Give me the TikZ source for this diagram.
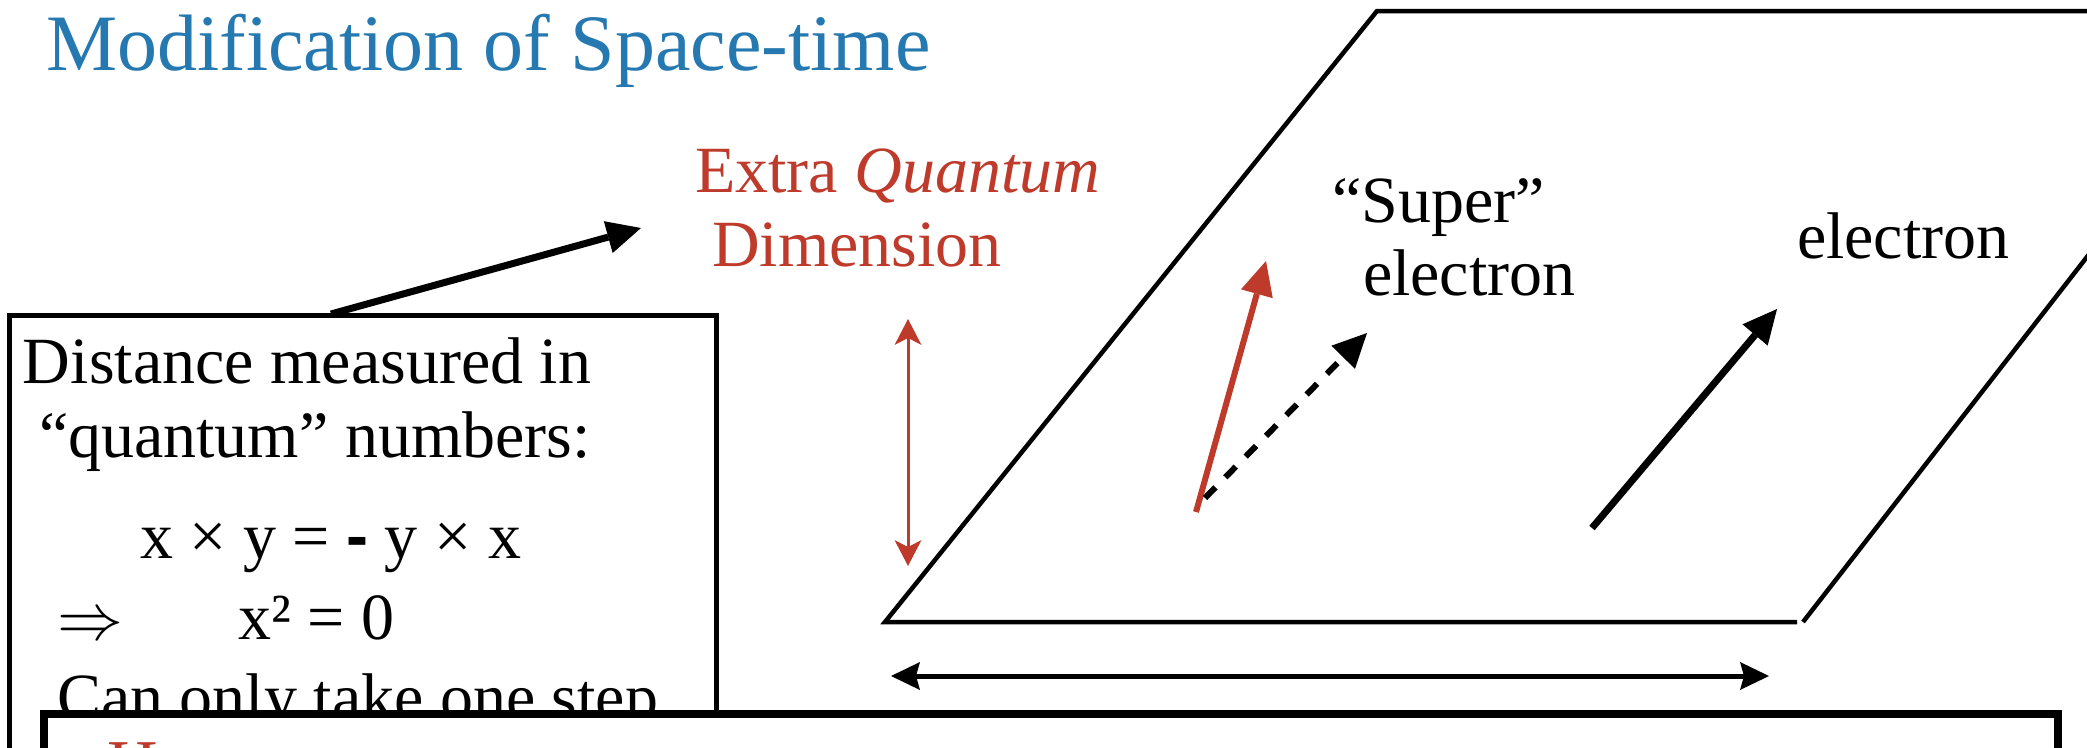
\RequirePackage{fix-cm}
\documentclass[tikz,border=0pt]{standalone}
\usepackage{fontspec}
\setmainfont{Liberation Serif}
\newfontfamily\dashfont{Liberation Sans}
\usetikzlibrary{arrows.meta}
\definecolor{titleblue}{RGB}{38,121,176}
\definecolor{qred}{RGB}{190,59,44}
\tikzset{
  bigtiparr/.tip={Triangle[length=34pt,width=33pt,line width=0pt]},
  thintiparr/.tip={Stealth[length=26pt,width=27pt,inset=7pt,line width=0pt]},
  midtiparr/.tip={Stealth[length=29pt,width=28pt,inset=4pt,line width=0pt]}
}
\begin{document}
\begin{tikzpicture}[x=1pt,y=-1pt,
  lbl/.style={inner sep=0pt, outer sep=0pt, anchor=base west, font=\fontsize{66}{74}\selectfont},
  redlbl/.style={lbl, text=qred},
  titlelbl/.style={inner sep=0pt, anchor=base west, font=\fontsize{80}{90}\selectfont, text=titleblue},
  plane/.style={line width=4.5pt, line join=miter},
  framebox/.style={draw, inner sep=0pt, outer sep=0pt, anchor=north west},
  bigtip/.style={-{bigtiparr}}
]
\useasboundingbox (0,0) rectangle (2087,747);
\clip (0,0) rectangle (2087,747);

% title
\node[titlelbl] (title) at (46,70) {Modification of Space-time};

% red label
\node[redlbl] (extra) at (695,192) {Extra \textit{Quantum}};
\node[redlbl] (dim) at (712,266) {Dimension};

% arrow from the box to the label
\coordinate (bxA) at (331,314);
\coordinate (bxB) at (641,228);
\draw[line width=7pt, bigtip] (bxA) -- (bxB);

% left box
\node[framebox, line width=5pt, minimum width=707pt, minimum height=600pt] (lbox) at (9,315) {};
\node[lbl] (l1) at (23,383) {Distance measured in};
\node[lbl] (l2) at (39,457) {“quantum” numbers:};
\node[lbl] (l3) at (140,558) {x × y = {\dashfont\bfseries -} y × x};
\node[lbl] (l4a) at (57,639) {$\Rightarrow$};
\node[lbl] (l4b) at (238,639) {x² = 0};
\node[lbl] (l5) at (57,719) {Can only take one step};

% second box (covers the bottom of the first)
\node[framebox, line width=8pt, fill=white, minimum width=2014pt, minimum height=300pt] (hbox) at (44,714) {};
\node[redlbl, font=\fontsize{70}{80}\selectfont] (hdr) at (107,788) {H};

% plane
\coordinate (pTR) at (2120,11);
\coordinate (pTL) at (1377,11);
\coordinate (pBL) at (885,622);
\coordinate (pBR) at (1797,622);
\coordinate (pRB) at (1803,622);
\coordinate (pRT) at (2139,190);
\draw[plane] (pTR) -- (pTL) -- (pBL) -- (pBR);
\draw[plane] (pRB) -- (pRT);

% red vertical double arrow
\coordinate (vT) at (908,319);
\coordinate (vB) at (908,566);
\draw[qred, line width=3pt, {thintiparr}-{thintiparr}] (vT) -- (vB);

% horizontal double arrow
\coordinate (hL) at (891,676);
\coordinate (hR) at (1769,676);
\draw[line width=5pt, {midtiparr}-{midtiparr}] (hL) -- (hR);

% super electron arrows
\coordinate (rS) at (1196,512);
\coordinate (rT) at (1266,261);
\draw[qred, line width=6pt, bigtip] (rS) -- (rT);
\coordinate (dS) at (1205,498);
\coordinate (dT) at (1367,333);
\draw[line width=6pt, dash pattern=on 15pt off 14pt, bigtip] (dS) -- (dT);

% electron arrow
\coordinate (eS) at (1592,528);
\coordinate (eT) at (1777,309);
\draw[line width=7pt, bigtip] (eS) -- (eT);

% labels on the plane
\node[lbl] (sup) at (1332,222) {“Super”};
\node[lbl] (sel) at (1363,295) {electron};
\node[lbl] (el) at (1797,258) {electron};
\end{tikzpicture}
\end{document}
